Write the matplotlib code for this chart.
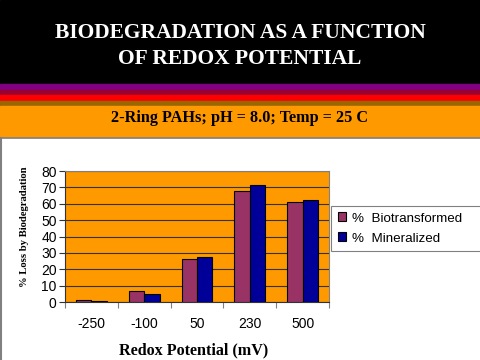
import matplotlib
matplotlib.use("Agg")
import matplotlib.pyplot as plt
from matplotlib.patches import Rectangle
from matplotlib.lines import Line2D
import numpy as np

categories = ["-250", "-100", "50", "230", "500"]
biotransformed = [1.2, 6.7, 26.3, 67.5, 61.0]
mineralized = [0.6, 4.7, 27.5, 71.7, 62.2]
series_labels = ["%  Biotransformed", "%  Mineralized"]
yticks = [0, 10, 20, 30, 40, 50, 60, 70, 80]

W, H = 480, 360
fig = plt.figure(figsize=(4.8, 3.6), dpi=100)
fig.patch.set_facecolor("white")

def band(y0, y1, color):
    fig.patches.append(Rectangle((0, 1 - y1 / H), 1, (y1 - y0) / H,
                                 transform=fig.transFigure, color=color, zorder=0))

band(0, 84, "black")
band(84, 89.5, "#800080")
band(89.5, 95, "#990033")
band(95, 100.7, "#FF0000")
band(100.7, 106, "#996600")
band(106, 137, "#FF9900")
fig.lines.append(Line2D([0, 1], [1 - 137.5 / H] * 2, transform=fig.transFigure,
                        color="#808080", lw=1.2))
fig.lines.append(Line2D([0.5 / W] * 2, [0, 1 - 137.5 / H], transform=fig.transFigure,
                        color="#808080", lw=1.5))

fig.text(0.5, 1 - 33 / H, "BIODEGRADATION AS A FUNCTION", color="white",
         family="Liberation Serif", weight="bold", fontsize=15.5, ha="center", va="center")
fig.text(0.5, 1 - 58.5 / H, "OF REDOX POTENTIAL", color="white",
         family="Liberation Serif", weight="bold", fontsize=15.5, ha="center", va="center")
fig.text(0.5, 1 - 118.5 / H, "2-Ring PAHs; pH = 8.0; Temp = 25 C", color="black",
         family="Liberation Serif", weight="bold", fontsize=11.7, ha="center", va="center")

x0, x1, y0, y1 = 65, 329, 171, 302
ax = fig.add_axes([x0 / W, 1 - y1 / H, (x1 - x0) / W, (y1 - y0) / H])
ax.set_facecolor("#FF9900")
x = np.arange(len(categories))
bw = 0.29
ax.bar(x - bw / 2, biotransformed, bw, color="#993366", edgecolor="black", lw=0.8,
       label=series_labels[0], zorder=3)
ax.bar(x + bw / 2, mineralized, bw, color="#000099", edgecolor="black", lw=0.8,
       label=series_labels[1], zorder=3)
ax.set_xlim(-0.5, len(categories) - 0.5)
ax.set_ylim(0, 80)
ax.set_yticks(yticks)
ax.yaxis.grid(True, color="#333333", lw=0.8, zorder=1)
ax.set_axisbelow(True)
ax.set_xticks(np.arange(-0.5, len(categories), 1.0))
ax.set_xticklabels([])
ax.set_xticks(x, minor=True)
ax.set_xticklabels(categories, minor=True)
ax.tick_params(axis="x", which="minor", length=0, pad=11, labelsize=10)
ax.tick_params(axis="x", which="major", length=4, color="#808080", direction="out")
ax.tick_params(axis="y", length=4, color="#333333", labelsize=10, pad=2)
for lab in ax.get_xticklabels(minor=True) + ax.get_yticklabels():
    lab.set_family("Liberation Sans")
for s in ["top", "right"]:
    ax.spines[s].set_color("#808080")
ax.spines["left"].set_color("#333333")
ax.spines["bottom"].set_color("#333333")

fig.text(194 / W, 1 - 350 / H, "Redox Potential (mV)", family="Liberation Serif",
         weight="bold", fontsize=11.6, ha="center", va="center")
fig.text(25 / W, 1 - 227 / H, "% Loss by Biodegradation", family="Liberation Serif",
         weight="bold", fontsize=7.7, ha="center", va="center", rotation=90)

leg = ax.legend(loc="upper left", bbox_to_anchor=(331 / W, 1 - 249 / H, 0.4, (249 - 205.7) / H),
                bbox_transform=fig.transFigure, mode="expand", borderaxespad=0,
                handlelength=0.65, handleheight=0.65, handletextpad=0.4,
                labelspacing=0.6, fancybox=False, edgecolor="#808080", framealpha=1,
                borderpad=0.5, prop={"family": "Liberation Sans", "size": 9.6})
leg.get_frame().set_linewidth(0.8)

fig.savefig("out.png", dpi=100)
